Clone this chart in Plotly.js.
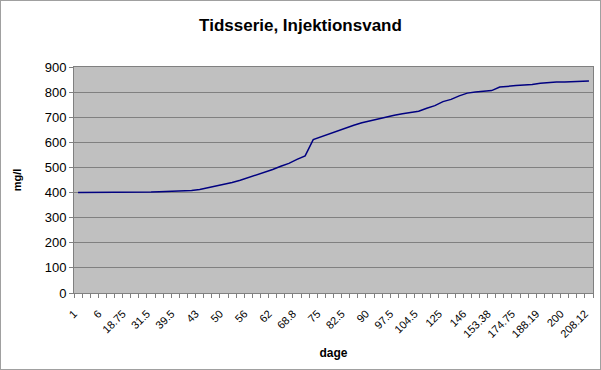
<!DOCTYPE html>
<html>
<head>
<meta charset="utf-8">
<script src="https://cdn.plot.ly/plotly-3.0.1.min.js"></script>
<style>
html,body{margin:0;padding:0;background:#fff;}
#chart{width:599px;height:368px;border:1px solid #a0a0a0;}
</style>
</head>
<body>
<div id="chart"></div>
<script>
// Categories (days) along the x axis
const days = ["1","2","4","6","10","14","18.75","23","27","31.5","34","37","39.5","41","42","43","45","48","50","52","54","56","58","60","62","64","66","68.8","71","73","75","77.5","80","82.5","85","87.5","90","92.5","95","97.5","100","102","104.5","111","118","125","132","139","146","148.5","151","153.38","160.5","167.6","174.75","179.2","183.7","188.19","192","196","200","202.7","205.4","208.12"];
// Concentration values, mg/l
const mgPerL = [400,400,400,400,400,400,400,400,400,402,403,404,406,407,408,412,419,425,431,440,449,459,470,481,492,505,516,532,546,611,623,635,646,657,668,678,686,694,702,708,714,719,724,736,746,762,771,785,796,800,802,806,820,824,826,828,830,835,839,840,840,842,843,844];
// Which categories carry a visible label (every third)
const labelStep = 3;

const xIdx = days.map((d, i) => i);
const tickIdx = xIdx.filter(i => i % labelStep === 0);
const tickText = tickIdx.map(i => days[i]);
const boundaries = [];
for (let i = 0; i <= days.length; i++) boundaries.push(i - 0.5);

const trace = {
  x: xIdx,
  y: mgPerL,
  text: days,
  type: 'scatter',
  mode: 'lines',
  line: {color: '#000080', width: 1.5},
  hovertemplate: 'dag %{text}: %{y} mg/l<extra></extra>'
};

const layout = {
  width: 599,
  height: 368,
  margin: {l: 73, r: 7, t: 66, b: 76},
  paper_bgcolor: '#ffffff',
  plot_bgcolor: '#c0c0c0',
  showlegend: false,
  font: {family: 'Liberation Sans, Arial, sans-serif', color: '#000', size: 11},
  title: {
    text: '<b>Tidsserie, Injektionsvand</b>',
    font: {size: 17, family: 'Liberation Sans, Arial, sans-serif', color: '#000'},
    x: 0.5, xanchor: 'center', y: 0.935, yanchor: 'middle'
  },
  xaxis: {
    range: [-0.5, days.length - 0.5],
    tickmode: 'array',
    tickvals: tickIdx,
    ticktext: tickText,
    tickangle: -45,
    ticks: '',
    ticklabelstandoff: 9,
    ticklabelshift: -4,
    showgrid: false,
    zeroline: false,
    showline: true,
    mirror: true,
    linecolor: '#808080',
    linewidth: 1,
    tickfont: {size: 11},
    minor: {tickmode: 'array', tickvals: boundaries, ticks: 'outside', ticklen: 4, tickcolor: '#808080', showgrid: false},
    title: {text: '<b>dage</b>', font: {size: 12}, standoff: 9}
  },
  yaxis: {
    range: [0, 900],
    dtick: 100,
    tick0: 0,
    ticks: 'outside',
    ticklen: 4,
    tickcolor: '#808080',
    showgrid: true,
    gridcolor: '#808080',
    gridwidth: 1,
    zeroline: false,
    showline: true,
    mirror: true,
    linecolor: '#808080',
    tickfont: {size: 13},
    title: {text: '<b>mg/l</b>', font: {size: 11}, standoff: 20}
  }
};

Plotly.newPlot('chart', [trace], layout, {displayModeBar: false, staticPlot: true});
</script>
</body>
</html>
